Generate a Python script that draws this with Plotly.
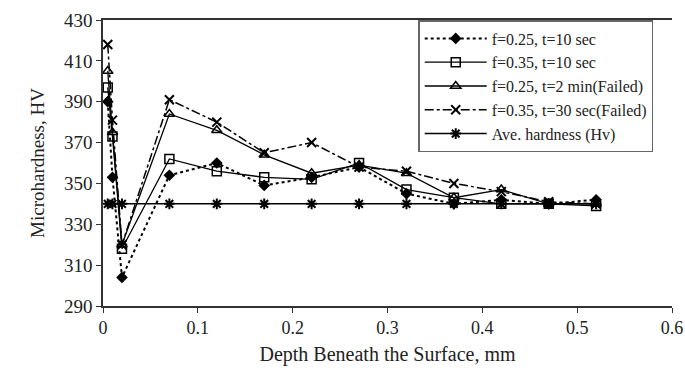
import plotly.graph_objects as go

depth = [0.005, 0.01, 0.02, 0.07, 0.12, 0.17, 0.22, 0.27, 0.32, 0.37, 0.42, 0.47, 0.52]
s1 = [390, 353, 304, 354, 360, 349, 353, 358, 345, 340, 342, 340, 342]
s2 = [397, 373, 318, 362, 356, 353, 352, 360, 347, 343, 340, 340, 339]
s3 = [405, 375, 320, 384, 376, 364, 355, 359, 355, 343, 347, 340, 340]
s4 = [418, 381, 320, 391, 380, 365, 370, 358, 356, 350, 346, 341, 340]
avg = [340] * len(depth)

names = ["f=0.25, t=10 sec", "f=0.35, t=10 sec", "f=0.25, t=2 min(Failed)",
         "f=0.35, t=30 sec(Failed)", "Ave. hardness (Hv)"]

FONT = "Liberation Serif"
fig = go.Figure()
styles = [
    (s1, dict(dash="dot", width=2), dict(symbol="diamond", size=9, color="black")),
    (s2, dict(dash="solid", width=1.3), dict(symbol="square-open", size=9, color="black", line=dict(width=1.5))),
    (s3, dict(dash="solid", width=1.3), dict(symbol="triangle-up-open", size=9, color="black", line=dict(width=1.5))),
    (s4, dict(dash="dashdot", width=1.5), dict(symbol="x-thin-open", size=9, color="black", line=dict(width=2))),
    (avg, dict(dash="solid", width=1.5), dict(symbol="asterisk-open", size=9, color="black", line=dict(width=2))),
]
for (ys, ln, mk), nm in zip(styles, names):
    fig.add_trace(go.Scatter(x=depth, y=ys, mode="lines+markers", name=nm,
                             line=dict(color="black", **ln), marker=mk))

fig.update_layout(
    width=685, height=379,
    margin=dict(l=103, r=13, t=20, b=73, autoexpand=False),
    paper_bgcolor="white", plot_bgcolor="white",
    font=dict(family=FONT, size=19, color="#222"),
    showlegend=True,
    legend=dict(x=0.554, y=1, xanchor="left", yanchor="top",
                bordercolor="#666", borderwidth=1.5, bgcolor="white",
                font=dict(family=FONT, size=16), itemwidth=62,
                tracegroupgap=0),
    xaxis=dict(range=[0, 0.6], tickvals=[0, 0.1, 0.2, 0.3, 0.4, 0.5, 0.6],
               ticktext=["0", "0.1", "0.2", "0.3", "0.4", "0.5", "0.6"],
               tickfont=dict(size=18),
               ticklabeloverflow="allow", automargin=False,
               showgrid=False, zeroline=False, showline=True, linecolor="#333", linewidth=1.5,
               mirror=True, ticks="outside", ticklen=5, tickcolor="#333",
               title=dict(text="Depth Beneath the Surface, mm", font=dict(size=20), standoff=10)),
    yaxis=dict(range=[290, 430], tick0=290, dtick=20, showgrid=False, zeroline=False,
               showline=True, linecolor="#333", linewidth=1.5, ticks="outside", ticklen=5,
               tickcolor="#333", mirror=False, automargin=False,
               title=dict(text="Microhardness, HV", font=dict(size=19), standoff=14)),
)
fig.write_html("out.html")
